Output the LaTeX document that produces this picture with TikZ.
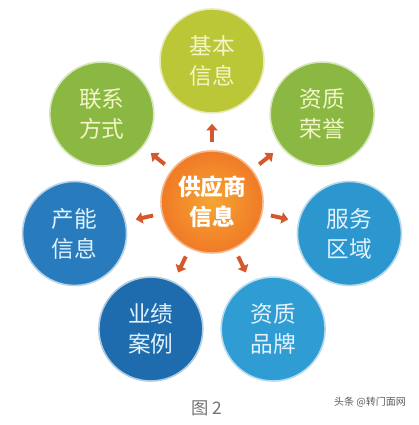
\documentclass[tikz,border=0pt]{standalone}
\usepackage{fontspec}
\newfontfamily\cjk{Noto Sans CJK SC}
\usetikzlibrary{arrows.meta,calc}
\definecolor{hubcol}{RGB}{240,122,38}
\definecolor{linkcol}{RGB}{212,88,44}
\definecolor{lime}{RGB}{188,199,55}
\definecolor{leaf}{RGB}{139,184,66}
\definecolor{sky}{RGB}{44,150,206}
\definecolor{sea}{RGB}{48,156,212}
\definecolor{navy}{RGB}{30,108,174}
\definecolor{ocean}{RGB}{40,124,190}
\definecolor{paleg}{RGB}{242,245,200}
\definecolor{paleb}{RGB}{226,242,252}
\tikzset{
  sat/.style={circle, minimum size=78pt, inner sep=0pt, line width=1.2pt,
    align=center, font=\cjk\fontsize{17}{22.5}\selectfont},
  link/.style={line width=3pt, linkcol, -{Triangle[width=8.5pt,length=5pt]},
    shorten <=6.5pt, shorten >=7.5pt}
}
\begin{document}
\begin{tikzpicture}[x=0.75pt, y=0.75pt]
\useasboundingbox (0,0) rectangle (418,425);
% hub
\node[sat, minimum size=76.5pt, draw=hubcol!55, inner color=hubcol!75!yellow!90, outer color=hubcol,
  text=white, font=\cjk\bfseries\fontsize{17}{22.5}\selectfont] (hub) at (212,223) {供应商\\信息};
% satellites
\foreach \ang/\name/\col/\tcol/\txt in {
  90/basic/lime/paleg/{基本\\信息},
  38.6/honor/leaf/paleg/{资质\\荣誉},
  -12.9/area/sky/paleb/{服务\\区域},
  -64.3/brand/sea/paleb/{资质\\品牌},
  -115.7/cases/navy/paleb/{业绩\\案例},
  -167.1/capac/ocean/paleb/{产能\\信息},
  141.4/contact/leaf/paleg/{联系\\方式}}{
  \node[sat, fill=\col, draw=\col!35!white, text=\tcol] (\name) at ($(hub)+(\ang:141)$) {\txt};
  \draw[link] (hub) -- (\name);
}
% caption and mark
\node[text=black!55, font=\cjk\fontsize{13}{15}\selectfont] (cap) at (207,17) {图 2};
\node[text=black!65, font=\cjk\fontsize{7.5}{9}\selectfont] (mark) at (370,23) {头条 @转门面网};
\end{tikzpicture}
\end{document}
